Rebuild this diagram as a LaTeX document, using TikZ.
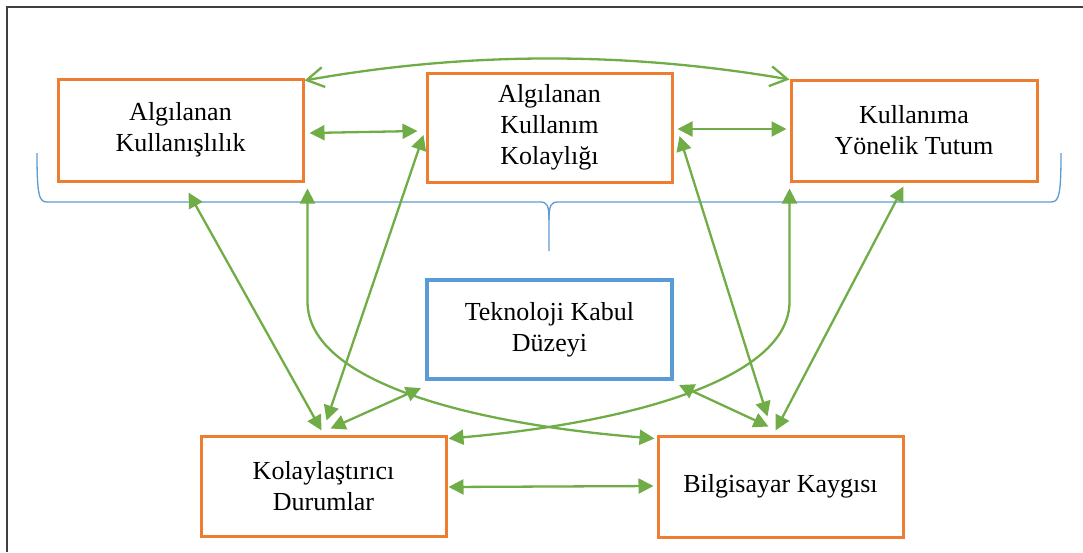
\documentclass[tikz,border=0pt]{standalone}
\usepackage{fontspec}
\setmainfont{Liberation Serif}
\usetikzlibrary{arrows.meta}
\definecolor{boxorange}{HTML}{ED7D31}
\definecolor{boxblue}{HTML}{5B9BD5}
\definecolor{linkgreen}{HTML}{70AD47}
\definecolor{framegray}{HTML}{404040}
\tikzset{
  box/.style={draw=boxorange, line width=3pt, inner sep=0pt, align=center,
    minimum width=245pt, font=\fontsize{26}{31}\selectfont},
  centerbox/.style={box, draw=boxblue, line width=4pt},
  link/.style={draw=linkgreen, line width=2.3pt,
    {Triangle[length=15pt,width=15pt]}-{Triangle[length=15pt,width=15pt]}},
  openlink/.style={draw=linkgreen, line width=2.3pt,
    {Straight Barb[length=17pt,width=20pt]}-{Straight Barb[length=17pt,width=20pt]}},
  bracket/.style={draw=boxblue, line width=1.3pt},
}
\begin{document}
\begin{tikzpicture}[x=1pt,y=-1pt]
\useasboundingbox (0,0) rectangle (1083,552);
% frame
\draw[framegray, line width=1.5pt] (7,552) -- (7,7) -- (1083,7);

% constructs
\node[box, minimum height=102pt] (ak)  at (180.5,130)   {Algılanan\\Kullanışlılık};
\node[box, minimum height=109pt] (akk) at (549.5,127.5) {Algılanan\\Kullanım\\Kolaylığı};
\node[box, minimum width=246pt, minimum height=101pt] (kyt) at (914,130.5) {Kullanıma\\Yönelik Tutum};
\node[centerbox, minimum height=99pt] (tkd) at (549.5,329.5) {Teknoloji Kabul\\Düzeyi};
\node[box, minimum height=100pt] (kd) at (323.5,486) {Kolaylaştırıcı\\Durumlar};
\node[box, minimum height=101pt] (bk) at (780.5,486.5) {Bilgisayar Kaygısı};

% brace under the top row
\draw[bracket] (37,153) .. controls (37,195) and (39,202) .. (47,202) -- (540,202)
  .. controls (547,202) and (549,205) .. (549,220) -- (549,251);
\draw[bracket] (549,220) .. controls (549,205) and (551,202) .. (558,202) -- (1051,202)
  .. controls (1059,202) and (1061,195) .. (1061,153);

% top row links
\draw[openlink] ([shift={(0,3)}]ak.north east)
  .. controls +(163,-29) and +(-163,-28) .. ([shift={(0,1)}]kyt.north west);
\draw[link] ([shift={(5,3)}]ak.east) -- ([shift={(-8,3.5)}]akk.west);
\draw[link] ([shift={(4,1.5)}]akk.east) -- ([shift={(-3,-1.5)}]kyt.west);

% links to Kolaylaştırıcı Durumlar
\draw[link] ([shift={(132,10)}]ak.south west) -- ([shift={(122,-4)}]kd.north west);
\draw[link] ([shift={(-2,7.5)}]akk.west) -- ([shift={(127,-14)}]kd.north west);
\draw[link] ([shift={(-4,7)}]tkd.south west) -- ([shift={(131,-6)}]kd.north west);

% links to Bilgisayar Kaygısı
\draw[link] ([shift={(6,8.5)}]akk.east) -- ([shift={(111,-18)}]bk.north west);
\draw[link] ([shift={(114,4)}]kyt.south west) -- ([shift={(119,-4)}]bk.north west);
\draw[link] ([shift={(5,4)}]tkd.south east) -- ([shift={(112,-8)}]bk.north west);

% crossing curved links
\draw[link] ([shift={(3,6)}]ak.south east) -- ++(0,113)
  .. controls +(0,80) and +(-186,-15) .. ([shift={(-2,4)}]bk.north west);
\draw[link] ([shift={(0,6)}]kyt.south west) -- ++(0,113)
  .. controls +(0,80) and +(173,-15) .. ([shift={(1,4)}]kd.north east);

% bottom link
\draw[link] ([shift={(1,1)}]kd.east) -- ([shift={(-3,-0.5)}]bk.west);
\end{tikzpicture}
\end{document}
